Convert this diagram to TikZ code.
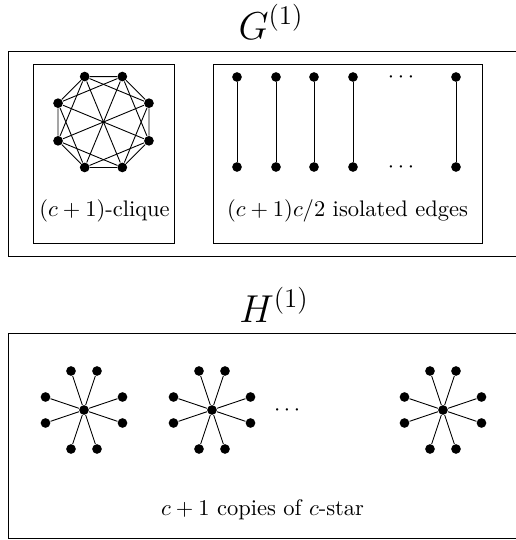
\documentclass[tikz,border=0pt]{standalone}
\usetikzlibrary{fit}
\usepackage{amsmath,amssymb}

\begin{document}
\begin{tikzpicture}[
    x=0.4444pt, y=-0.4444pt,
    panel/.style={draw, inner sep=0pt},
    vtx/.style={circle, fill, inner sep=0pt, minimum size=4.3pt},
    title/.style={anchor=base, font=\fontsize{16.5}{20}\selectfont},
    caption/.style={anchor=base}
]
\useasboundingbox (0,0) rectangle (516,540);
\node[title] (gtitle) at (271,39) {$G^{(1)}$};
\node[panel, fit={(8,51) (534,256)}] (gframe) {};
\node[panel, fit={(33,64) (174,243)}] (cliquebox) {};
\node[panel, fit={(213,64) (482,243)}] (edgebox) {};
\foreach \k [evaluate=\k as \a using 22.5+45*\k] in {0,...,7}
    \node[vtx] (q\k) at ([shift={(103.5,122)}]\a:49.2) {};
\foreach \i in {0,...,7} {
    \pgfmathtruncatemacro\na{mod(\i+1,8)}
    \pgfmathtruncatemacro\nb{mod(\i+2,8)}
    \draw (q\i) -- (q\na) (q\i) -- (q\nb);
}
\foreach \i in {0,...,3} {
    \pgfmathtruncatemacro\opp{\i+4}
    \draw (q\i) -- (q\opp);
}
\foreach \e/\x in {1/237, 2/276, 3/314, 4/353, 5/456} {
    \node[vtx] (t\e) at (\x,77) {};
    \node[vtx] (b\e) at (\x,167) {};
    \draw (t\e) -- (b\e);
}
\node (tdots) at (403,77) {$\cdots$};
\node (bdots) at (403,167) {$\cdots$};
\node[caption] (cliquelabel) at (104.5,216) {$(c+1)$-clique};
\node[caption] (edgelabel) at (347.5,216) {$(c+1)c/2$ isolated edges};
\node[title] (htitle) at (274,322) {$H^{(1)}$};
\node[panel, fit={(8,333) (534,538)}] (hframe) {};
\foreach \s/\x in {1/84, 2/212, 3/443} {
    \node[vtx] (c\s) at (\x,410) {};
    \foreach \l/\dx/\dy in {1/13/39, 2/-13/39, 3/38.5/13, 4/-38.5/13, 5/13/-39, 6/-13/-39, 7/38.5/-13, 8/-38.5/-13} {
        \node[vtx] (l\s-\l) at ([shift={(\dx,\dy)}]c\s) {};
        \draw (c\s) -- (l\s-\l);
    }
}
\node (hdots) at (289,410) {$\cdots$};
\node[caption] (starlabel) at (262.5,515) {$c+1$ copies of $c$-star};
\end{tikzpicture}
\end{document}
